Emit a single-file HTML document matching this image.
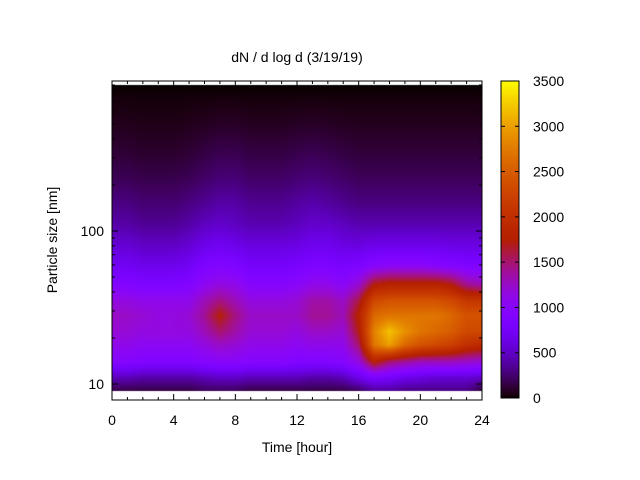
<!DOCTYPE html>
<html><head><meta charset="utf-8"><style>
body{margin:0;background:#fff;width:640px;height:480px;overflow:hidden;font-family:"Liberation Sans","DejaVu Sans",sans-serif;}
#wrap{position:relative;width:640px;height:480px;}
canvas{position:absolute;}
svg{position:absolute;left:0;top:0;}
</style></head><body>
<div id="wrap">
<canvas id="heat" width="370" height="319" style="left:112px;top:81px"></canvas>
<canvas id="cbar" width="18" height="317" style="left:501px;top:81px"></canvas>
<svg id="ax" width="640" height="480"></svg>
</div>
<script>
const hours=[0,1,2,3,4,5,6,7,8,9,10,11,12,13,14,15,16,17,18,19,20,21,22,23,24];
const sizes=[9,11,14,18,22,28,35,45,60,80,110,150,220,320,500,800,900];
const row9=[150,150,150,150,150,150,200,200,200,150,150,150,150,150,150,150,200,350,350,300,300,300,300,300,100];
const row11=[450,450,400,400,400,400,450,500,500,450,450,450,450,400,400,450,650,800,750,650,600,550,550,550,500];
const row14=[950,950,900,900,900,900,950,1000,1000,950,950,950,900,900,900,950,1150,1800,1500,1400,1300,1300,1300,1250,1200];
const row18=[1100,1100,1050,1050,1050,1050,1150,1250,1200,1100,1100,1100,1050,1100,1100,1100,1500,2700,3000,2600,2400,2300,2200,2000,1900];
const row22=[1200,1200,1150,1150,1150,1150,1300,1500,1350,1200,1200,1200,1150,1250,1250,1200,1700,2800,3200,2900,2700,2600,2500,2300,2300];
const row28=[1250,1250,1200,1150,1150,1200,1400,1750,1450,1250,1250,1250,1250,1400,1400,1300,1800,2600,2700,2700,2700,2700,2600,2400,2400];
const row35=[1150,1150,1100,1100,1100,1100,1300,1450,1300,1150,1150,1150,1200,1350,1350,1250,1600,2300,2400,2400,2400,2400,2300,2100,2100];
const row45=[900,900,850,850,850,900,1050,1150,1100,950,950,950,1000,1100,1100,1000,1200,1700,1800,1800,1800,1800,1700,1400,1300];
const row60=[700,700,650,650,650,700,850,900,850,750,750,750,800,850,850,800,850,950,1000,1000,1000,950,900,850,850];
const row80=[550,550,500,500,500,550,650,700,650,600,600,600,620,680,680,620,600,650,650,650,650,650,620,620,620];
const row110=[400,400,350,350,350,400,480,520,480,430,430,430,470,520,520,470,430,430,430,430,430,430,430,430,430];
const row150=[300,300,260,260,260,300,350,400,400,340,340,340,380,420,380,340,300,300,300,300,300,300,300,300,300];
const row220=[190,190,170,170,170,190,230,270,270,230,230,230,260,280,260,230,200,200,200,200,200,200,200,200,200];
const row320=[120,120,100,100,100,120,150,180,180,150,150,150,170,190,170,150,130,130,130,130,130,130,130,130,130];
const row500=[60,60,50,50,50,60,70,85,85,70,70,70,80,85,80,70,65,65,65,65,65,65,65,65,65];
const row800=[15,15,15,15,15,15,15,15,15,15,15,15,15,15,15,15,15,15,15,15,15,15,15,15,15];
const row900=[0,0,0,0,0,0,0,0,0,0,0,0,0,0,0,0,0,0,0,0,0,0,0,0,0];
const rows=[row9,row11,row14,row18,row22,row28,row35,row45,row60,row80,row110,row150,row220,row320,row500,row800,row900];
const xTicks=[0,4,8,12,16,20,24];
const cbTicks=[0,500,1000,1500,2000,2500,3000,3500];
const cbMax=3500;

const X0=112,X1=482,Y0=81,Y1=400;
function xs(h){return X0+(h-0)/24*(X1-X0);}
function ys(d){return 384-153*Math.log10(d/10);}
function pal(v){let x=Math.max(0,Math.min(1,v/cbMax));
  return [Math.sqrt(x)*255,Math.pow(x,3)*255,Math.max(0,Math.sin(2*Math.PI*x))*255];}

const hc=document.getElementById('heat'),hx=hc.getContext('2d');
const W=hc.width,H=hc.height,img=hx.createImageData(W,H);
const lsz=sizes.map(s=>Math.log10(s));
for(let py=0;py<H;py++){
  const Y=Y0+py+0.5;
  const ld=1+(384-Y)/153;
  for(let px=0;px<W;px++){
    const i=(py*W+px)*4;
    if(ld<lsz[0]||ld>lsz[lsz.length-1]){img.data[i]=255;img.data[i+1]=255;img.data[i+2]=255;img.data[i+3]=255;continue;}
    const h=(px+0.5)/W*24;
    let c=Math.min(hours.length-2,Math.floor(h)); let tx=(h-hours[c])/(hours[c+1]-hours[c]);
    let r=0; while(r<lsz.length-2&&ld>lsz[r+1])r++;
    let ty=(ld-lsz[r])/(lsz[r+1]-lsz[r]);
    const v=(rows[r][c]*(1-tx)+rows[r][c+1]*tx)*(1-ty)+(rows[r+1][c]*(1-tx)+rows[r+1][c+1]*tx)*ty;
    const col=pal(v);
    img.data[i]=col[0];img.data[i+1]=col[1];img.data[i+2]=col[2];img.data[i+3]=255;
  }
}
hx.putImageData(img,0,0);

const cc=document.getElementById('cbar'),cx=cc.getContext('2d');
for(let py=0;py<cc.height;py++){const c=pal((1-(py+0.5)/cc.height)*cbMax);cx.fillStyle=`rgb(${c[0]|0},${c[1]|0},${c[2]|0})`;cx.fillRect(0,py,cc.width,1);}

const svg=document.getElementById('ax'),NS='http://www.w3.org/2000/svg';
function el(t,a,txt){const e=document.createElementNS(NS,t);for(const k in a)e.setAttribute(k,a[k]);if(txt!==undefined)e.textContent=txt;svg.appendChild(e);return e;}
const frame=el('rect',{x:X0,y:Y0,width:X1-X0,height:Y1-Y0,fill:'none',stroke:'#000','stroke-width':1});


for(let h=0;h<=24;h++){
  const x=xs(h),L=(h%4===0)?6:3;
  el('line',{x1:x,y1:Y1,x2:x,y2:Y1-L,stroke:'#000'});
  el('line',{x1:x,y1:Y0,x2:x,y2:Y0+L,stroke:'#000'});
}
xTicks.forEach(h=>{const t=el('text',{x:xs(h),y:Y1+25,'text-anchor':'middle','font-size':14,fill:'#000'},String(h));
  
  });
[10,20,30,40,50,60,70,80,90,100,200,300,400,500,600,700,800,900].forEach(d=>{
  const y=ys(d);if(y<Y0||y>Y1)return;const L=(d===10||d===100)?6:3;
  el('line',{x1:X0,y1:y,x2:X0+L,y2:y,stroke:'#000'});
  el('line',{x1:X1,y1:y,x2:X1-L,y2:y,stroke:'#000'});
});
[10,100].forEach(d=>{const t=el('text',{x:X0-8,y:ys(d)+5,'text-anchor':'end','font-size':14,fill:'#000'},String(d));
  
  });
const cbf=el('rect',{x:501,y:81,width:18,height:317,fill:'none',stroke:'#000'});


cbTicks.forEach(v=>{const y=398-v/cbMax*317;
  el('line',{x1:501,y1:y,x2:505,y2:y,stroke:'#000'});el('line',{x1:519,y1:y,x2:515,y2:y,stroke:'#000'});
  const t=el('text',{x:533,y:y+5,'font-size':14,fill:'#000'},String(v));
  
  });
const ti=el('text',{x:297,y:62,'text-anchor':'middle','font-size':14,fill:'#000'},'dN / d log d (3/19/19)');


const xl=el('text',{x:297,y:452,'text-anchor':'middle','font-size':14,fill:'#000'},'Time [hour]');


const yl=el('text',{x:0,y:0,'text-anchor':'middle','font-size':14,fill:'#000',transform:'translate(57,240) rotate(-90)'},'Particle size [nm]');


</script>
</body></html>
